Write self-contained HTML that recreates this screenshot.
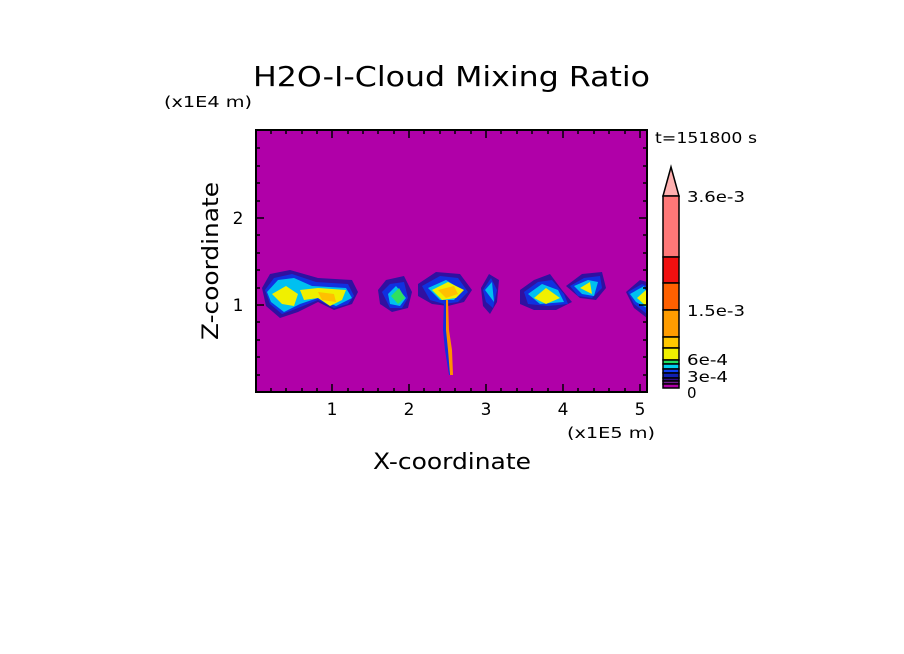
<!DOCTYPE html>
<html><head><style>
body{margin:0;background:#fff;}
svg{display:block;font-family:"DejaVu Sans","Liberation Sans",sans-serif;}
</style></head><body>
<svg width="904" height="654" xmlns="http://www.w3.org/2000/svg">
<rect width="904" height="654" fill="#fff"/>
<text x="253" y="86" font-size="28" textLength="397" lengthAdjust="spacingAndGlyphs" fill="#000">H2O-I-Cloud Mixing Ratio</text>
<text x="164" y="107" font-size="15" textLength="88" lengthAdjust="spacingAndGlyphs" fill="#000">(x1E4 m)</text>
<text x="655" y="143" font-size="15" textLength="102" lengthAdjust="spacingAndGlyphs" fill="#000">t=151800 s</text>
<rect x="256" y="130" width="391" height="262" fill="#b000a8"/>
<g fill="#3010a0">
<path d="M262,288 L270,274 L290,270 L318,278 L352,280 L358,292 L352,304 L334,310 L318,302 L298,312 L280,318 L266,306 Z"/>
<path d="M378,290 L386,280 L404,276 L412,292 L408,308 L392,312 L380,304 Z"/>
<path d="M418,284 L436,272 L460,274 L472,290 L464,302 L448,306 L432,304 L418,296 Z"/>
<path d="M481,288 L489,274 L499,280 L497,302 L490,314 L483,306 Z"/>
<path d="M520,290 L534,280 L550,274 L562,290 L572,302 L556,310 L534,310 L520,304 Z"/>
<path d="M566,286 L582,274 L602,272 L606,288 L596,300 L580,298 Z"/>
<path d="M626,292 L640,280 L647,282 L647,318 L634,308 Z"/>
</g>
<g fill="#1030e0">
<path d="M265,290 L274,278 L292,274 L316,282 L348,284 L354,296 L348,304 L334,308 L318,300 L298,308 L282,314 L270,304 Z"/>
<path d="M382,292 L390,284 L404,282 L408,298 L402,308 L390,308 Z"/>
<path d="M422,286 L440,276 L458,278 L468,292 L458,302 L444,304 L430,300 Z"/>
<path d="M483,290 L491,278 L497,290 L493,308 L486,302 Z"/>
<path d="M524,292 L538,282 L552,280 L564,294 L568,304 L548,306 L528,304 Z"/>
<path d="M570,286 L584,278 L600,276 L602,288 L592,298 L578,296 Z"/>
<path d="M628,292 L642,284 L647,286 L647,314 L634,304 Z"/>
</g>
<g fill="#00c0f0">
<path d="M267,292 L278,280 L294,278 L312,286 L346,288 L352,298 L336,306 L318,298 L300,304 L284,312 L271,302 Z"/>
<path d="M388,294 L396,286 L406,298 L400,306 L390,304 Z"/>
<path d="M428,288 L446,280 L462,290 L454,300 L440,300 Z"/>
<path d="M485,290 L492,282 L494,302 Z"/>
<path d="M528,294 L542,284 L558,290 L564,302 L540,304 Z"/>
<path d="M574,286 L588,280 L598,282 L594,296 L582,294 Z"/>
<path d="M630,294 L644,286 L647,296 L647,308 L636,302 Z"/>
</g>
<g fill="#30e060"><path d="M391,296 L399,288 L405,298 L398,304 Z"/></g>
<g fill="#f0f000">
<path d="M272,294 L286,286 L298,294 L294,306 L282,304 Z"/>
<path d="M300,290 L318,288 L346,290 L342,300 L330,306 L318,298 L304,300 Z"/>
<path d="M432,290 L448,282 L464,290 L456,298 L442,300 Z"/>
<path d="M534,298 L546,288 L560,298 L546,304 Z"/>
<path d="M580,288 L590,282 L592,294 Z"/>
<path d="M637,298 L646,290 L646,306 Z"/>
</g>
<g fill="#ffc000">
<path d="M318,292 L334,294 L336,302 L322,300 Z"/>
<path d="M438,290 L454,286 L458,294 L446,298 Z"/>
</g>
<path d="M444,300 L448,300 L449,330 L452,350 L453,375 L450,375 L447,350 L444,330 Z" fill="#ff9000"/>
<path d="M444,300 L446,300 L446,330 L448,350 L450,375 L449,375 L445,350 L443,330 Z" fill="#1030e0"/>
<rect x="256" y="130" width="391" height="262" fill="none" stroke="#000" stroke-width="2"/>
<g stroke="#000" stroke-width="1.5">
<path d="M332,392v-8M409,392v-8M486,392v-8M563,392v-8M640,392v-8M332,130v8M409,130v8M486,130v8M563,130v8M640,130v8"/>
<path d="M271,392v-4M286,392v-4M302,392v-4M317,392v-4M348,392v-4M363,392v-4M378,392v-4M394,392v-4M424,392v-4M440,392v-4M455,392v-4M471,392v-4M501,392v-4M517,392v-4M532,392v-4M548,392v-4M578,392v-4M594,392v-4M609,392v-4M625,392v-4"/>
<path d="M271,130v4M286,130v4M302,130v4M317,130v4M348,130v4M363,130v4M378,130v4M394,130v4M424,130v4M440,130v4M455,130v4M471,130v4M501,130v4M517,130v4M532,130v4M548,130v4M578,130v4M594,130v4M609,130v4M625,130v4"/>
<path d="M256,305h8M256,218h8M647,305h-8M647,218h-8"/>
<path d="M256,375h4M256,357h4M256,340h4M256,322h4M256,288h4M256,270h4M256,253h4M256,235h4M256,201h4M256,183h4M256,166h4M256,148h4"/>
<path d="M647,375h-4M647,357h-4M647,340h-4M647,322h-4M647,288h-4M647,270h-4M647,253h-4M647,235h-4M647,201h-4M647,183h-4M647,166h-4M647,148h-4"/>
</g>
<g font-size="17" fill="#000" text-anchor="middle">
<text x="332" y="415">1</text><text x="409" y="415">2</text><text x="486" y="415">3</text><text x="563" y="415">4</text><text x="640" y="415">5</text>
<text x="238" y="311">1</text><text x="238" y="224">2</text>
</g>
<text x="567" y="438" font-size="15" textLength="88" lengthAdjust="spacingAndGlyphs" fill="#000">(x1E5 m)</text>
<text x="373" y="469" font-size="22" textLength="158" lengthAdjust="spacingAndGlyphs" fill="#000">X-coordinate</text>
<text transform="translate(218,340) rotate(-90)" font-size="22" textLength="158" lengthAdjust="spacingAndGlyphs" fill="#000">Z-coordinate</text>
<g stroke="#000" stroke-width="1.5">
<path d="M663,196 L671,167 L679,196 Z" fill="#ffb0b0"/>
<rect x="663" y="196" width="16" height="61" fill="#ff7878"/>
<rect x="663" y="257" width="16" height="26" fill="#f01010"/>
<rect x="663" y="283" width="16" height="27" fill="#ff6000"/>
<rect x="663" y="310" width="16" height="27" fill="#ff9c00"/>
<rect x="663" y="337" width="16" height="11" fill="#ffc800"/>
<rect x="663" y="348" width="16" height="12" fill="#f0f000"/>
<rect x="663" y="360" width="16" height="4" fill="#20e060"/>
<rect x="663" y="364" width="16" height="5" fill="#00d0f0"/>
<rect x="663" y="369" width="16" height="4" fill="#1040f0"/>
<rect x="663" y="373" width="16" height="5" fill="#1020b0"/>
<rect x="663" y="378" width="16" height="3" fill="#301080"/>
<rect x="663" y="381" width="16" height="3" fill="#702090"/>
<rect x="663" y="384" width="16" height="4" fill="#b000a8"/>
</g>
<g font-size="15" fill="#000">
<text x="687" y="202" textLength="58" lengthAdjust="spacingAndGlyphs">3.6e-3</text>
<text x="687" y="316" textLength="58" lengthAdjust="spacingAndGlyphs">1.5e-3</text>
<text x="687" y="365" textLength="41" lengthAdjust="spacingAndGlyphs">6e-4</text>
<text x="687" y="382" textLength="41" lengthAdjust="spacingAndGlyphs">3e-4</text>
<text x="687" y="398">0</text>
</g>
</svg>
</body></html>
